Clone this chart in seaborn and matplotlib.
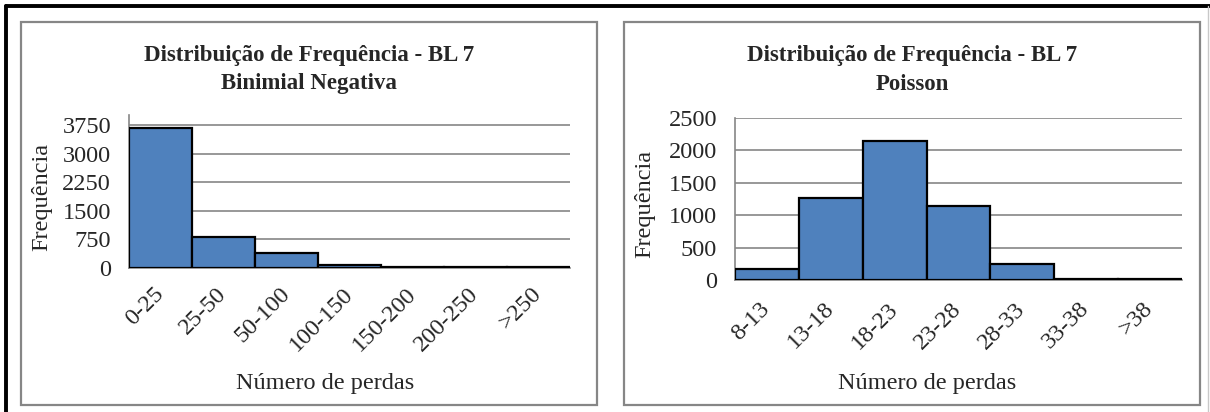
import numpy as np
import pandas as pd
import matplotlib
matplotlib.use("Agg")
import matplotlib.pyplot as plt
from matplotlib.patches import Rectangle
from matplotlib.lines import Line2D
from matplotlib.transforms import ScaledTranslation
import seaborn as sns

# ==============================
# Data
# ==============================
nb_classes = ["0-25", "25-50", "50-100", "100-150", "150-200", "200-250", ">250"]
nb_freq = [3680, 825, 395, 70, 25, 15, 15]

po_classes = ["8-13", "13-18", "18-23", "23-28", "28-33", "33-38", ">38"]
po_freq = [165, 1270, 2140, 1135, 250, 15, 10]

nb_yticks = [0, 750, 1500, 2250, 3000, 3750]
po_yticks = [0, 500, 1000, 1500, 2000, 2500]

# ==============================
# Style
# ==============================
sns.set_style("white")
plt.rcParams['font.family'] = ['Liberation Serif', 'DejaVu Serif']

bar_color = "#4F81BD"
grid_color = "#868686"
W, H = 1210, 412

fig = plt.figure(figsize=(W / 100, H / 100), dpi=100)


def fx(px):
    return px / W


def fy(py):
    return 1 - py / H


# outer frame (black top/left, light right) and the two chart boxes
fig.lines.append(Line2D([fx(6), 1], [fy(6), fy(6)], transform=fig.transFigure,
                        color="black", linewidth=2.8))
fig.lines.append(Line2D([fx(6), fx(6)], [0, fy(6)], transform=fig.transFigure,
                        color="black", linewidth=2.8))
fig.lines.append(Line2D([fx(1208), fx(1208)], [0, fy(6)], transform=fig.transFigure,
                        color="#c8c8c8", linewidth=1.0))
for x0, x1 in [(21, 597), (624, 1200)]:
    fig.patches.append(Rectangle((fx(x0), fy(405)), (x1 - x0) / W, (405 - 22) / H,
                                 transform=fig.transFigure, fill=False,
                                 edgecolor=grid_color, linewidth=1.6))


def draw_panel(box, classes, freq, yticks, ymax, title2, cx, ylab_x, ylab_y, xlab_x, lab_pad):
    x0, y_top, x1, y_zero = box
    ax = fig.add_axes([fx(x0), fy(y_zero), (x1 - x0) / W, (y_zero - y_top) / H])
    df = pd.DataFrame({"classe": classes, "freq": freq})
    sns.barplot(data=df, x="classe", y="freq", color=bar_color, width=1.0,
                edgecolor="black", linewidth=1.6, saturation=1, ax=ax, zorder=3)
    n = len(classes)
    ax.set_xlim(-0.5, n - 0.5)
    ax.set_ylim(0, ymax)
    ax.set_yticks(yticks)
    ax.set_yticklabels([str(v) for v in yticks], fontsize=17.5)
    # tick marks at bar boundaries, labels at bar centres
    ax.set_xticks(np.arange(n + 1) - 0.5)
    ax.set_xticklabels([])
    ax.set_xticks(np.arange(n), minor=True)
    ax.set_xticklabels(classes, minor=True, rotation=45, fontsize=17.5,
                       ha="right", va="center", rotation_mode="anchor")
    shift = ScaledTranslation(2 / 72, 0, fig.dpi_scale_trans)
    for lbl in ax.get_xticklabels(minor=True):
        lbl.set_transform(lbl.get_transform() + shift)
    ax.tick_params(axis="x", which="major", length=5, width=1.2, color=grid_color, direction="out")
    ax.tick_params(axis="x", which="minor", length=0, pad=lab_pad)
    ax.tick_params(axis="y", length=5, width=1.2, color=grid_color, direction="out", pad=8)
    ax.yaxis.grid(True, color=grid_color, linewidth=1.2)
    ax.set_axisbelow(True)
    for s in ["top", "right"]:
        ax.spines[s].set_visible(False)
    for s in ["left", "bottom"]:
        ax.spines[s].set_color(grid_color)
        ax.spines[s].set_linewidth(1.2)
    ax.set_xlabel("")
    ax.set_ylabel("")
    fig.text(fx(cx), fy(56), "Distribuição de Frequência - BL 7",
             ha="center", va="center", fontsize=16.5, fontweight="bold")
    fig.text(fx(cx), fy(84), title2,
             ha="center", va="center", fontsize=16.5, fontweight="bold")
    fig.text(fx(ylab_x), fy(ylab_y), "Frequência", rotation=90,
             ha="center", va="center", fontsize=17.5)
    fig.text(fx(xlab_x), fy(383), "Número de perdas",
             ha="center", va="center", fontsize=17.5)
    return ax


# left: binomial negativa (axis 129..570 px, 4000 at y=115.5, 0 at y=268)
draw_panel((129, 115.5, 570, 268), nb_classes, nb_freq, nb_yticks, 4000,
           "Binimial Negativa", 309, 42, 197, 325, 16.5)

# right: poisson (axis 735..1182 px, 2500 at y=118, 0 at y=280)
draw_panel((735, 118, 1182, 280), po_classes, po_freq, po_yticks, 2500,
           "Poisson", 912, 645, 204, 927, 18.5)

plt.savefig("out.png", dpi=100)
